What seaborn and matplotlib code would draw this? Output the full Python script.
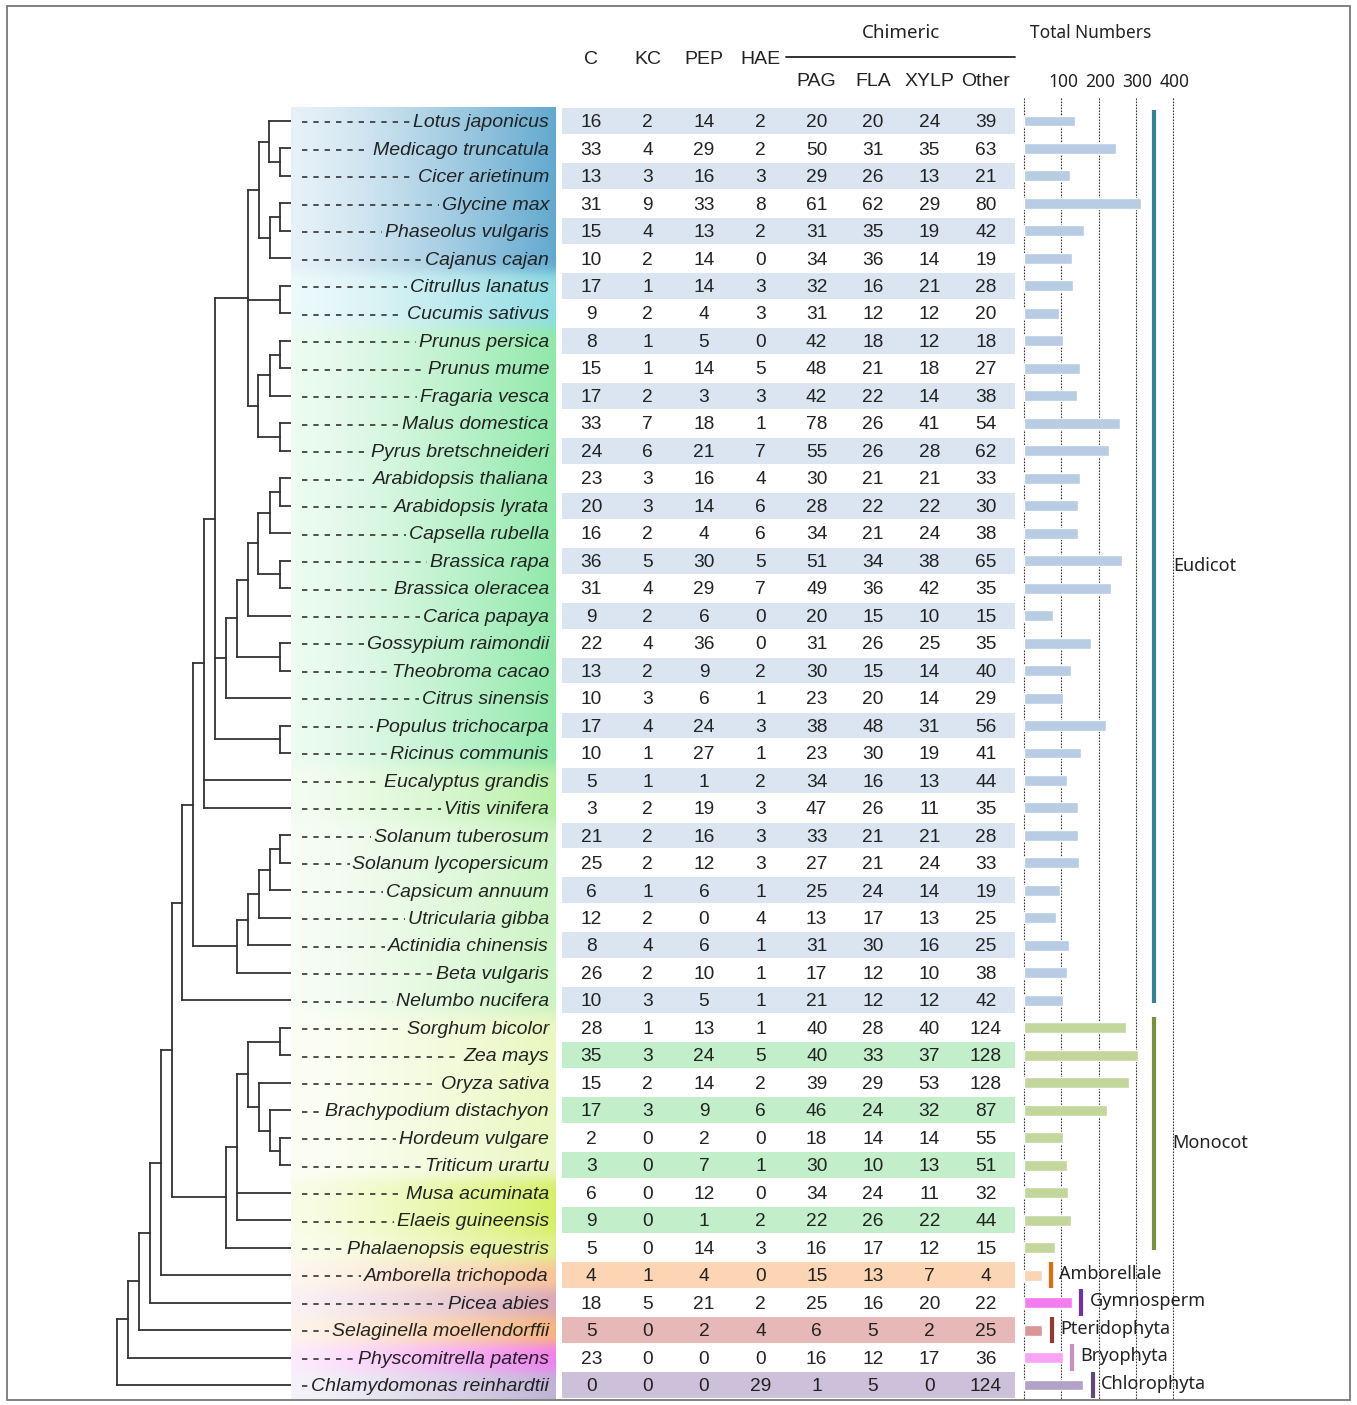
import numpy as np
import pandas as pd
import matplotlib
matplotlib.use("Agg")
import matplotlib.pyplot as plt
import matplotlib.transforms as mtransforms
from matplotlib.patches import Rectangle
import seaborn as sns

# ---------------- data ----------------
species = ["Lotus japonicus", "Medicago truncatula", "Cicer arietinum", "Glycine max",
           "Phaseolus vulgaris", "Cajanus cajan", "Citrullus lanatus", "Cucumis sativus",
           "Prunus persica", "Prunus mume", "Fragaria vesca", "Malus domestica",
           "Pyrus bretschneideri", "Arabidopsis thaliana", "Arabidopsis lyrata",
           "Capsella rubella", "Brassica rapa", "Brassica oleracea", "Carica papaya",
           "Gossypium raimondii", "Theobroma cacao", "Citrus sinensis",
           "Populus trichocarpa", "Ricinus communis", "Eucalyptus grandis",
           "Vitis vinifera", "Solanum tuberosum", "Solanum lycopersicum",
           "Capsicum annuum", "Utricularia gibba", "Actinidia chinensis",
           "Beta vulgaris", "Nelumbo nucifera", "Sorghum bicolor", "Zea mays",
           "Oryza sativa", "Brachypodium distachyon", "Hordeum vulgare",
           "Triticum urartu", "Musa acuminata", "Elaeis guineensis",
           "Phalaenopsis equestris", "Amborella trichopoda", "Picea abies",
           "Selaginella moellendorffii", "Physcomitrella patens",
           "Chlamydomonas reinhardtii"]

C = [16, 33, 13, 31, 15, 10, 17, 9, 8, 15, 17, 33, 24, 23, 20, 16, 36, 31, 9, 22, 13, 10,
     17, 10, 5, 3, 21, 25, 6, 12, 8, 26, 10, 28, 35, 15, 17, 2, 3, 6, 9, 5, 4, 18, 5, 23, 0]
KC = [2, 4, 3, 9, 4, 2, 1, 2, 1, 1, 2, 7, 6, 3, 3, 2, 5, 4, 2, 4, 2, 3, 4, 1, 1, 2, 2, 2,
      1, 2, 4, 2, 3, 1, 3, 2, 3, 0, 0, 0, 0, 0, 1, 5, 0, 0, 0]
PEP = [14, 29, 16, 33, 13, 14, 14, 4, 5, 14, 3, 18, 21, 16, 14, 4, 30, 29, 6, 36, 9, 6,
       24, 27, 1, 19, 16, 12, 6, 0, 6, 10, 5, 13, 24, 14, 9, 2, 7, 12, 1, 14, 4, 21, 2, 0, 0]
HAE = [2, 2, 3, 8, 2, 0, 3, 3, 0, 5, 3, 1, 7, 4, 6, 6, 5, 7, 0, 0, 2, 1, 3, 1, 2, 3, 3, 3,
       1, 4, 1, 1, 1, 1, 5, 2, 6, 0, 1, 0, 2, 3, 0, 2, 4, 0, 29]
PAG = [20, 50, 29, 61, 31, 34, 32, 31, 42, 48, 42, 78, 55, 30, 28, 34, 51, 49, 20, 31, 30,
       23, 38, 23, 34, 47, 33, 27, 25, 13, 31, 17, 21, 40, 40, 39, 46, 18, 30, 34, 22, 16,
       15, 25, 6, 16, 1]
FLA = [20, 31, 26, 62, 35, 36, 16, 12, 18, 21, 22, 26, 26, 21, 22, 21, 34, 36, 15, 26, 15,
       20, 48, 30, 16, 26, 21, 21, 24, 17, 30, 12, 12, 28, 33, 29, 24, 14, 10, 24, 26, 17,
       13, 16, 5, 12, 5]
XYLP = [24, 35, 13, 29, 19, 14, 21, 12, 12, 18, 14, 41, 28, 21, 22, 24, 38, 42, 10, 25, 14,
        14, 31, 19, 13, 11, 21, 24, 14, 13, 16, 10, 12, 40, 37, 53, 32, 14, 13, 11, 22, 12,
        7, 20, 2, 17, 0]
Other = [39, 63, 21, 80, 42, 19, 28, 20, 18, 27, 38, 54, 62, 33, 30, 38, 65, 35, 15, 35, 40,
         29, 56, 41, 44, 35, 28, 33, 19, 25, 25, 38, 42, 124, 128, 128, 87, 55, 51, 32, 44,
         15, 4, 22, 25, 36, 124]

col_names = ["C", "KC", "PEP", "HAE", "PAG", "FLA", "XYLP", "Other"]
groups = (["Eudicot"] * 33 + ["Monocot"] * 9 +
          ["Amborellale", "Gymnosperm", "Pteridophyta", "Bryophyta", "Chlorophyta"])
bar_ticks = [100, 200, 300, 400]

# phylogeny: [node depth, children...]; integers are leaf rows
legumes = [259, [269, 0, [280, 1, 2]], [270, [280, 3, 4], 5]]
cucurbits = [280, 6, 7]
rosaceae = [258, [270, [280, 8, 9], 10], [280, 11, 12]]
fabids = [248, legumes, cucurbits, rosaceae]
malvids = [226, [237, [248, [258, [270, [280, 13, 14], 15], [280, 16, 17]], 18],
                 [280, 19, 20]], 21]
rosid_core = [215, fabids, malvids, [280, 22, 23]]
rosids = [204, rosid_core, 24, 25]
asterids = [237, [248, [259, [270, [280, 26, 27], 28], 29], 30], 31]
eudicots = [182, [193, rosids, asterids], 32]
monocots = [226, [237, [248, [280, 33, 34], [259, 35, [270, 36, [280, 37, 38]]]], 39, 40], 41]
tree = [117, [128, [139, [150, [161, [172, eudicots, monocots], 42], 43], 44], 45], 46]

# ---------------- styles ----------------
bar_palette = {"Eudicot": "#b8cce4", "Monocot": "#c3d69b", "Amborellale": "#fbd4b4",
               "Gymnosperm": "#f57bf2", "Pteridophyta": "#d99694", "Bryophyta": "#f9a3f7",
               "Chlorophyta": "#b2a2c7"}
line_palette = {"Eudicot": "#31849b", "Monocot": "#76923c", "Amborellale": "#e36c09",
                "Gymnosperm": "#7030a0", "Pteridophyta": "#953734", "Bryophyta": "#c88fc4",
                "Chlorophyta": "#5f497a"}
stripe_palette = {"Eudicot": "#dbe5f1", "Monocot": "#c2efca", "Amborellale": "#fcd5b4",
                  "Gymnosperm": "#f9c6f7", "Pteridophyta": "#e6b8b7", "Bryophyta": "#f9c6f7",
                  "Chlorophyta": "#ccc0da"}
band_segments = [("#62a9cf", 6), ("#8fdce3", 2), ("#90e8aa", 16), ("#b8f0a8", 2),
                 ("#cbf3c3", 7), ("#eaf7c0", 6), ("#d6f066", 2), ("#e0f08a", 1),
                 ("#f9c59a", 1), ("#d9a9b9", 1), ("#f8b57c", 1), ("#f27ff0", 1),
                 ("#bfb3d6", 1)]

sns.set_theme(style="white")
plt.rcParams["font.family"] = ["Liberation Sans", "DejaVu Sans"]
UI_FONT = ["Noto Sans", "DejaVu Sans"]

W, H = 1357, 1405
fig = plt.figure(figsize=(W / 100, H / 100), dpi=100)
fig.patch.set_facecolor("white")

n = len(species)
pitch = (1385 - 121) / (n - 1)
top_px = 121 - pitch / 2
bot_px = 1385 + pitch / 2
TXT_DY = 0.06


def px_axes(x0, x1, y0=top_px, y1=bot_px):
    ax = fig.add_axes([x0 / W, 1 - y1 / H, (x1 - x0) / W, (y1 - y0) / H])
    ax.set_axis_off()
    ax.set_ylim(n - 0.5, -0.5)
    return ax


# ---------------- tree ----------------
ax_tree = px_axes(100, 292)
LEAF_X = 292
ax_tree.set_xlim(100, 292)
tree_kw = dict(color="#333333", lw=1.3, solid_capstyle="projecting")


def draw(node):
    if isinstance(node, int):
        return LEAF_X, node
    x = node[0]
    ys = []
    for ch in node[1:]:
        cx, cy = draw(ch)
        ax_tree.plot([x, cx], [cy, cy], **tree_kw)
        ys.append(cy)
    ax_tree.plot([x, x], [min(ys), max(ys)], **tree_kw)
    return x, (ys[0] + ys[-1]) / 2


draw(tree)

# ---------------- label band with gradient ----------------
ax_lab = px_axes(291, 556)
ax_lab.set_xlim(0, 1)
row_cols = []
for c, k in band_segments:
    row_cols += [matplotlib.colors.to_rgb(c)] * k
sub = 20
col_rows = np.repeat(np.array(row_cols), sub, axis=0)
kern = np.exp(-0.5 * (np.arange(-12, 13) / 4.0) ** 2)
kern /= kern.sum()
pad = np.pad(col_rows, ((12, 12), (0, 0)), mode="edge")
smooth = np.stack([np.convolve(pad[:, j], kern, mode="valid") for j in range(3)], axis=1)
xs = np.linspace(0, 1, 265)
t = 0.16 + 0.84 * xs ** 1.35
img = 1 - (1 - smooth[:, None, :]) * t[None, :, None]
ax_lab.imshow(img, extent=(0, 1, n - 0.5, -0.5), aspect="auto", interpolation="bilinear")
ax_lab.set_ylim(n - 0.5, -0.5)

lab_texts = []
for i, s in enumerate(species):
    tx = ax_lab.text((549 - 291) / 265, i + TXT_DY, s, ha="right", va="center",
                     fontsize=14, style="italic", color="#222222")
    lab_texts.append(tx)

# ---------------- table ----------------
ax_tab = px_axes(562, 1015)
ax_tab.set_xlim(-0.52, 7.52)
table = pd.DataFrame({"C": C, "KC": KC, "PEP": PEP, "HAE": HAE, "PAG": PAG,
                      "FLA": FLA, "XYLP": XYLP, "Other": Other})
for i in range(n):
    if i % 2 == 0:
        ax_tab.barh(i, 8.04, left=-0.52, height=0.94, color=stripe_palette[groups[i]],
                    linewidth=0)
    for j, cn in enumerate(col_names):
        ax_tab.text(j, i + TXT_DY, str(table[cn].iloc[i]), ha="center", va="center",
                    fontsize=13.8, color="#222222")

hdr = mtransforms.blended_transform_factory(ax_tab.transData, fig.transFigure)
for j, cn in enumerate(col_names):
    yy = 60 if j < 4 else 82
    ax_tab.text(j, 1 - yy / H, cn, transform=hdr, ha="center", va="center",
                fontsize=14, color="#222222")
ax_tab.text(5.5, 1 - 33 / H, "Chimeric", transform=hdr, ha="center",
            va="center", fontsize=13.5, family=UI_FONT, color="#222222")
ax_tab.plot([3.45, 7.52], [1 - 57 / H, 1 - 57 / H], transform=hdr, color="#222222",
            lw=1.3, clip_on=False)

# ---------------- total bars ----------------
scale = 0.3725  # px per unit
ax_bar = fig.add_axes([1024 / W, 1 - bot_px / H, (1350 - 1024) / W, (bot_px - top_px) / H])
df = pd.DataFrame({"Species": species, "Group": groups})
df["Total"] = table.sum(axis=1).values
sns.barplot(data=df, x="Total", y="Species", hue="Group", palette=bar_palette,
            dodge=False, width=0.4, saturation=1, errorbar=None, legend=False,
            orient="h", ax=ax_bar)
ax_bar.set_xlim(0, (1350 - 1024) / scale)
ax_bar.set_ylim(n - 0.5, -0.5)
ax_bar.set_axis_off()
for v in [0] + bar_ticks:
    ax_bar.plot([v, v], [-0.85, n - 0.5], color="#333333", lw=0.8,
                ls=(0, (1.5, 1.2)), clip_on=False, zorder=0)
btr = mtransforms.blended_transform_factory(ax_bar.transData, fig.transFigure)
for v in bar_ticks:
    ax_bar.text(v + 5, 1 - 82 / H, str(v), transform=btr, ha="center", va="center",
                fontsize=12.5, family=UI_FONT, color="#222222")
ax_bar.text(178, 1 - 33 / H, "Total Numbers", transform=btr, ha="center", va="center",
            fontsize=12.5, family=UI_FONT, color="#222222")

# group brackets
for g, x_line, x_txt in [("Eudicot", 348, 400), ("Monocot", 348, 398)]:
    rows = [i for i in range(n) if groups[i] == g]
    ax_bar.plot([x_line, x_line], [rows[0] - 0.4, rows[-1] + 0.1],
                color=line_palette[g], lw=3, solid_capstyle="butt")
    ax_bar.text(x_txt, (rows[0] + rows[-1]) / 2 + 0.2, g, ha="left", va="center",
                fontsize=13, family=UI_FONT, color="#222222")
for i in range(n):
    g = groups[i]
    if g in ("Eudicot", "Monocot"):
        continue
    xl = df["Total"].iloc[i] + 25
    ax_bar.plot([xl, xl], [i - 0.48, i + 0.48], color=line_palette[g], lw=3,
                solid_capstyle="butt")
    ax_bar.text(xl + 22, i - 0.05, g, ha="left", va="center", fontsize=13,
                family=UI_FONT, color="#222222")

# ---------------- dashed leaders in label band ----------------
fig.canvas.draw()
rend = fig.canvas.get_renderer()
inv = ax_lab.transData.inverted()
x_start = (302 - 291) / 265
for i, tx in enumerate(lab_texts):
    bb = tx.get_window_extent(renderer=rend)
    x_end = inv.transform((bb.x0, 0))[0] - 3 / 265
    x_end = max(x_end, x_start + 5 / 265)
    ax_lab.plot([x_start, x_end], [i + 0.05, i + 0.05], color="#333333",
                lw=1.2, ls=(0, (3.2, 3.6)))

fig.patches.append(Rectangle((7 / W, 1 - 1400 / H), (1350 - 7) / W, (1400 - 6) / H,
                             transform=fig.transFigure, fill=False, ec="#777777", lw=1.3))

fig.savefig("out.png", dpi=100)
